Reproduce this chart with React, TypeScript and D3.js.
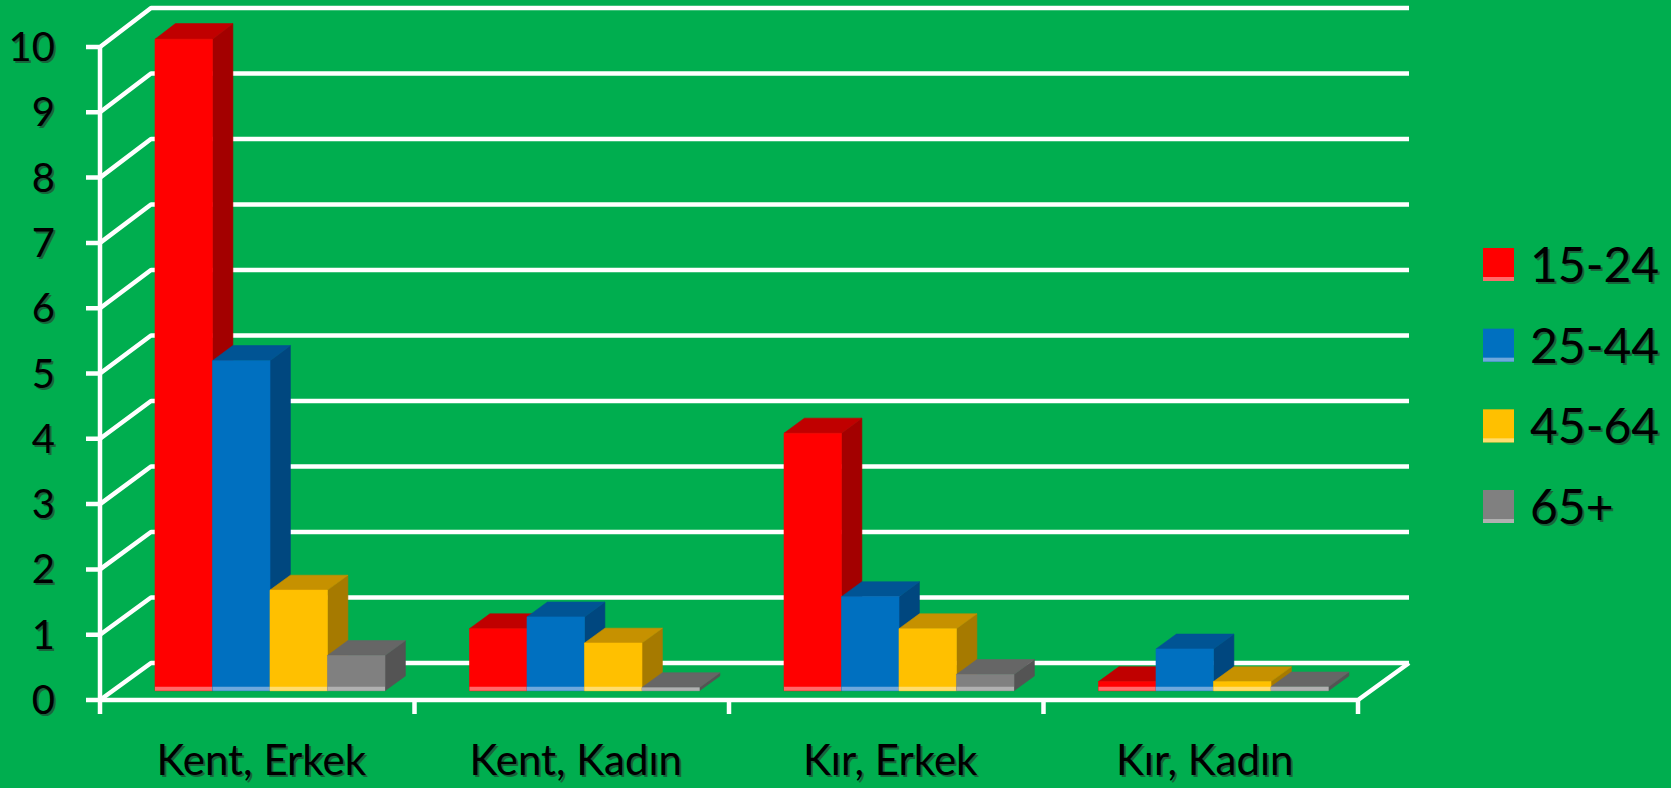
import * as d3 from 'd3';

const categories = ['Kent, Erkek', 'Kent, Kadın', 'Kır, Erkek', 'Kır, Kadın'];
const series = ['15-24', '25-44', '45-64', '65+'];

const age1524 = [9.97, 0.95, 3.94, 0.14];
const age2544 = [5.05, 1.13, 1.44, 0.64];
const age4564 = [1.54, 0.73, 0.95, 0.14];
const age65 = [0.54, 0.05, 0.25, 0.06];

const yTicks = [0, 1, 2, 3, 4, 5, 6, 7, 8, 9, 10];

const values = [age1524, age2544, age4564, age65];

const palette = [
  { front: '#FF0000', top: '#C00000', side: '#A30000', strip: '#FF6A6A' },
  { front: '#0070C0', top: '#005494', side: '#00477F', strip: '#6FA8DC' },
  { front: '#FFC000', top: '#C69100', side: '#A67A00', strip: '#FFDC6E' },
  { front: '#808080', top: '#666666', side: '#545454', strip: '#B0B0B0' },
];

const W = 1671;
const H = 788;
const DX = 51; // horizontal offset of back wall
const Z0 = 0.25; // bar front depth
const Z1 = 0.65; // bar back depth
const FONT = 'Lato, "Open Sans", "DejaVu Sans", sans-serif';

const xFront = d3.scaleBand<string>().domain(categories).range([100, 1358]);
const xInner = d3
  .scaleBand<string>()
  .domain(series)
  .range([0, xFront.bandwidth()])
  .paddingInner(0)
  .paddingOuter(0.735);
const yFront = d3.scaleLinear().domain([0, 10]).range([700, 47]);
const yBack = d3.scaleLinear().domain([0, 10]).range([663, 8]);
const legendY = d3.scaleLinear().domain([0, series.length - 1]).range([248, 490]);

function proj(x: number, v: number, z: number): [number, number] {
  return [x + z * DX, yFront(v) * (1 - z) + yBack(v) * z];
}

function poly(pts: [number, number][]) {
  return pts.map((p) => p.join(',')).join(' ');
}

function ShadowText(props: {
  x: number;
  y: number;
  size: number;
  anchor: string;
  children: string;
}) {
  const { x, y, size, anchor, children } = props;
  return (
    <g fontFamily={FONT} fontSize={size} textAnchor={anchor}>
      <text x={x + 2} y={y + 2} fill="#2b2b2b" opacity={0.55}>
        {children}
      </text>
      <text x={x} y={y} fill="#000">
        {children}
      </text>
    </g>
  );
}

function Bar({ cat, si }: { cat: number; si: number }) {
  const v = values[si][cat];
  const c = palette[si];
  const x0 = (xFront(categories[cat]) ?? 0) + (xInner(series[si]) ?? 0);
  const x1 = x0 + xInner.bandwidth();
  const f00 = proj(x0, 0, Z0);
  const f10 = proj(x1, 0, Z0);
  const f0v = proj(x0, v, Z0);
  const f1v = proj(x1, v, Z0);
  const b0v = proj(x0, v, Z1);
  const b1v = proj(x1, v, Z1);
  const b10 = proj(x1, 0, Z1);
  const stripH = Math.min(4, f10[1] - f1v[1]);
  return (
    <g>
      <polygon points={poly([f10, b10, b1v, f1v])} fill={c.side} stroke={c.side} strokeWidth={0.6} />
      <polygon points={poly([f0v, f1v, b1v, b0v])} fill={c.top} stroke={c.top} strokeWidth={0.6} />
      <polygon points={poly([f00, f10, f1v, f0v])} fill={c.front} stroke={c.front} strokeWidth={0.6} />
      <rect x={f00[0]} y={f00[1] - stripH} width={x1 - x0} height={stripH} fill={c.strip} />
    </g>
  );
}

export default function App() {
  const [left, right] = xFront.range();
  const bounds = [...categories.map((c) => xFront(c) ?? 0), right];

  return (
    <svg
      width={W}
      height={H}
      viewBox={`0 0 ${W} ${H}`}
      style={{ position: 'absolute', left: 0, top: 0 }}
    >
      <rect width={W} height={H} fill="#00AE4F" />

      {/* back wall grid + left wall diagonals */}
      <g fill="none" stroke="#fff" strokeWidth={4.5} strokeLinejoin="round">
        {yTicks.map((t) => {
          const [bx, by] = proj(left, t, 1);
          const [ex] = proj(right, t, 1);
          return (
            <path
              key={t}
              d={`M${left - 14},${yFront(t)} L${left},${yFront(t)} L${bx},${by} L${ex},${by}`}
            />
          );
        })}
        {/* floor front edge + right diagonal */}
        <path
          d={`M${left},${yFront(0)} L${right},${yFront(0)} L${proj(right, 0, 1).join(',')}`}
        />
        {/* front vertical axis */}
        <line x1={left} x2={left} y1={yFront(10)} y2={yFront(0) + 14} />
        {bounds.slice(1).map((b, i) => (
          <line key={i} x1={b} x2={b} y1={yFront(0)} y2={yFront(0) + 14} />
        ))}
      </g>

      {categories.map((_, ci) => (
        <g key={ci}>
          {series.map((_, si) => (
            <Bar key={si} cat={ci} si={si} />
          ))}
        </g>
      ))}

      {yTicks.map((t) => (
        <ShadowText key={t} x={55} y={yFront(t) + 14} size={40} anchor="end">
          {String(t)}
        </ShadowText>
      ))}

      {categories.map((c) => (
        <ShadowText
          key={c}
          x={(xFront(c) ?? 0) + xFront.bandwidth() / 2 + 4}
          y={775}
          size={42}
          anchor="middle"
        >
          {c}
        </ShadowText>
      ))}

      {series.map((s, i) => (
        <g key={s}>
          <rect x={1483} y={legendY(i)} width={31} height={33} fill={palette[i].front} />
          <rect x={1483} y={legendY(i) + 29} width={31} height={4} fill={palette[i].strip} />
          <ShadowText x={1530} y={legendY(i) + 34} size={48} anchor="start">
            {s}
          </ShadowText>
        </g>
      ))}
    </svg>
  );
}
